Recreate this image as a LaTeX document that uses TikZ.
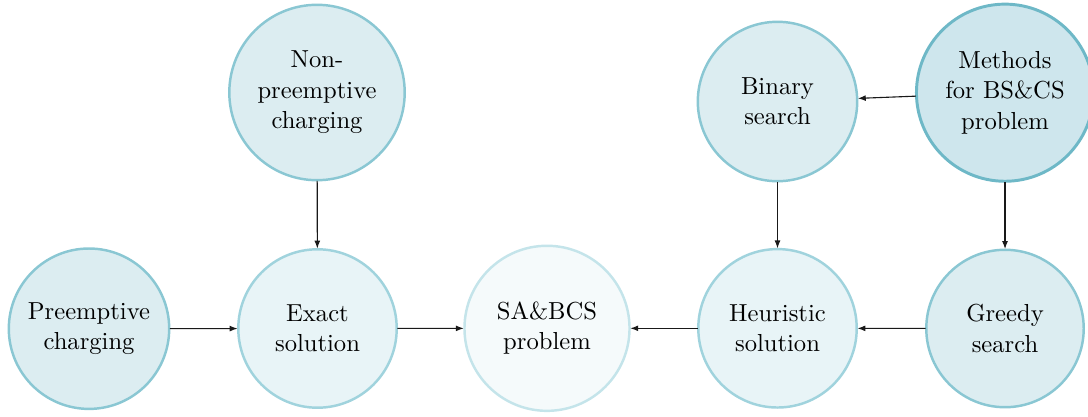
\documentclass[tikz,border=0pt]{standalone}
\usetikzlibrary{arrows.meta}
\definecolor{bordA}{RGB}{110,184,199}
\definecolor{fillA}{RGB}{206,230,237}
\definecolor{bordB}{RGB}{138,199,211}
\definecolor{fillB}{RGB}{220,237,241}
\definecolor{bordC}{RGB}{160,211,221}
\definecolor{fillC}{RGB}{232,244,247}
\definecolor{bordD}{RGB}{196,228,234}
\definecolor{fillD}{RGB}{245,250,251}
\tikzset{
  bubble/.style={circle, align=center, inner sep=1pt, outer sep=0.3pt, line width=1pt, text=black, font=\linespread{1.03}\selectfont},
  lvA/.style={bubble, draw=bordA, fill=fillA, line width=1.2pt},
  lvB/.style={bubble, draw=bordB, fill=fillB},
  lvC/.style={bubble, draw=bordC, fill=fillC},
  lvD/.style={bubble, draw=bordD, fill=fillD},
  conn/.style={draw=black!90, line width=0.45pt, -{Latex[length=3.2pt,width=2.4pt]}}
}
\begin{document}
\begin{tikzpicture}[x=0.4065pt, y=-0.4065pt]
\useasboundingbox (0,0) rectangle (1088,416);
\node[lvB, minimum size=71.3pt] (np) at (317,92.5) {Non-\\preemptive\\charging};
\node[lvA, minimum size=72pt] (me) at (1005,92.7) {Methods\\for BS\&CS\\problem};
\node[lvB, minimum size=64.8pt] (bi) at (777.5,101.5) {Binary\\search};
\node[lvB, minimum size=65.2pt] (pc) at (89,328.7) {Preemptive\\charging};
\node[lvC, minimum size=64.4pt] (ex) at (317.5,328.5) {Exact\\solution};
\node[lvD, minimum size=67.1pt] (sa) at (547,328.3) {SA\&BCS\\problem};
\node[lvC, minimum size=64.4pt] (he) at (777.5,328.3) {Heuristic\\solution};
\node[lvB, minimum size=64pt] (gr) at (1005,328.5) {Greedy\\search};
\draw[conn] (np) -- (ex);
\draw[conn] (pc) -- (ex);
\draw[conn] (ex) -- (sa);
\draw[conn] (he) -- (sa);
\draw[conn] (gr) -- (he);
\draw[conn] (bi) -- (he);
\draw[conn] (me) -- (bi);
\draw[conn] (me) -- (gr);
\end{tikzpicture}
\end{document}
